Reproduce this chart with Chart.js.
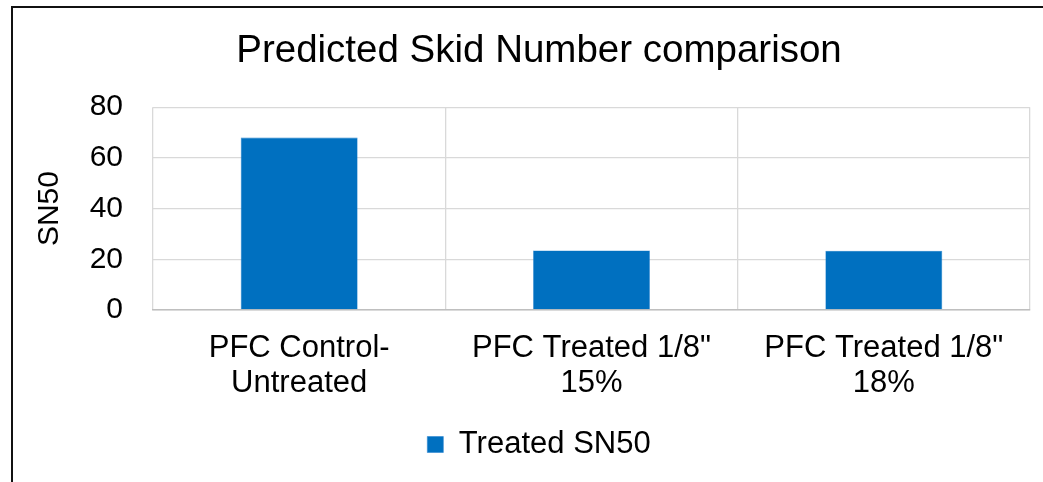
<!DOCTYPE html>
<html>
<head>
<meta charset="utf-8">
<script src="https://cdn.jsdelivr.net/npm/chart.js@4/dist/chart.umd.min.js"></script>
<style>
  html, body { margin: 0; padding: 0; background: #fff; overflow: hidden; }
  #wrap { position: relative; width: 1043px; height: 482px; }
  #frame {
    position: absolute; left: 11px; top: 6px; width: 1200px; height: 600px;
    border-left: 2px solid #111; border-top: 2px solid #111; pointer-events: none;
  }
  canvas { position: absolute; left: 0; top: 0; }
</style>
</head>
<body>
<div id="wrap">
  <canvas id="chart" width="1043" height="482"></canvas>
  <div id="frame"></div>
</div>
<script>
// Skid number per pavement section
const categories = [
  ["PFC Control-", "Untreated"],
  ["PFC Treated 1/8\"", "15%"],
  ["PFC Treated 1/8\"", "18%"]
];
const treatedSN50 = [68, 23.5, 23.4];
const seriesName = "Treated SN50";
const chartTitle = "Predicted Skid Number comparison";
const yAxisTitle = "SN50";
const yMin = 0, yMax = 80, yStep = 20;

const FONT = "'Liberation Sans', Arial, sans-serif";
const GRID = "#d9d9d9";

new Chart(document.getElementById("chart"), {
  type: "bar",
  data: {
    labels: categories,
    datasets: [{
      label: seriesName,
      data: treatedSN50,
      backgroundColor: "#0070c0",
      borderColor: "#2e86d0",
      borderWidth: 0.6,
      categoryPercentage: 1.0,
      barPercentage: 0.4
    }]
  },
  options: {
    responsive: false,
    animation: false,
    devicePixelRatio: 1,
    layout: { padding: { left: 48, right: 13, top: 0, bottom: 12 } },
    plugins: {
      title: {
        display: true,
        text: chartTitle,
        color: "#000",
        font: { family: FONT, size: 38.5, weight: "normal", lineHeight: 1.2 },
        padding: { top: 28, bottom: 33 }
      },
      legend: {
        display: true,
        position: "bottom",
        labels: {
          color: "#000",
          font: { family: FONT, size: 31 },
          boxWidth: 16,
          boxHeight: 16,
          padding: 10
        }
      },
      tooltip: { enabled: false }
    },
    scales: {
      x: {
        grid: { color: GRID, lineWidth: 1.3, drawTicks: false, offset: true },
        border: { color: "#bfbfbf", width: 1.5 },
        ticks: {
          color: "#000",
          font: { family: FONT, size: 31, lineHeight: 1.16 },
          padding: 20,
          maxRotation: 0,
          autoSkip: false
        },
        afterFit: (s) => { s.height = 109; }
      },
      y: {
        min: yMin,
        max: yMax,
        grid: { color: GRID, lineWidth: 1.3, drawTicks: false },
        border: { display: false },
        ticks: {
          stepSize: yStep,
          color: "#000",
          font: { family: FONT, size: 30 },
          padding: 30
        },
        title: {
          display: true,
          text: yAxisTitle,
          color: "#000",
          font: { family: FONT, size: 30 },
          padding: { top: -16, bottom: 0 }
        },
        afterFit: (s) => { s.width = 105; }
      }
    }
  }
});
</script>
</body>
</html>
